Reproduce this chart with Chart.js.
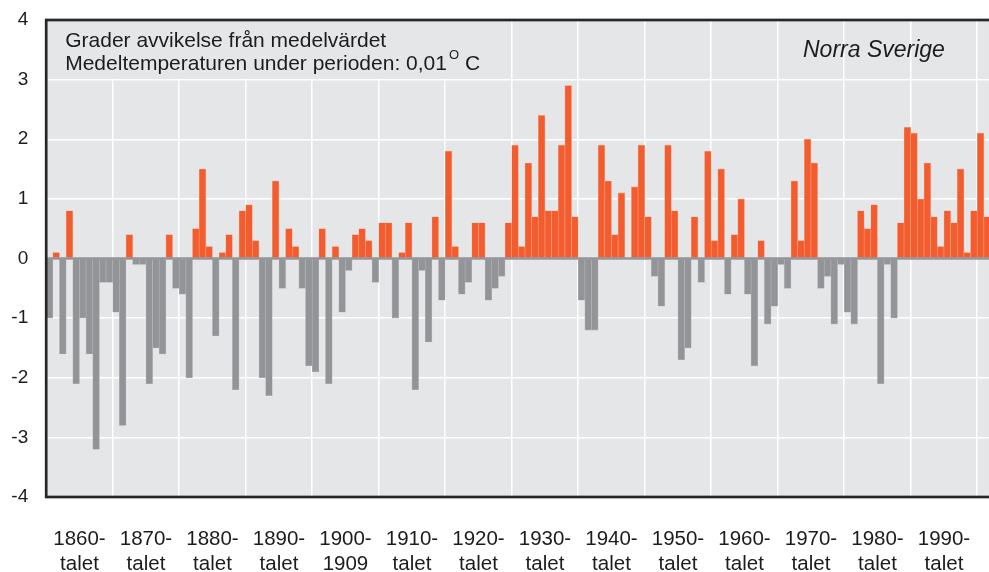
<!DOCTYPE html>
<html lang="sv">
<head>
<meta charset="utf-8">
<title>Norra Sverige</title>
<script src="https://cdn.jsdelivr.net/npm/chart.js@4.4.1/dist/chart.umd.min.js"></script>
<style>
html, body { margin:0; padding:0; background:#fff; overflow:hidden; }
#wrap { width:996px; height:572px; position:relative; }
</style>
</head>
<body>
<div id="wrap"><canvas id="tempChart"></canvas></div>
<script>

const firstYear = 1860;

// grader avvikelse från medelvärdet, ett värde per år 1860-2001
const deviation = [
    -1.0,  0.1, -1.6,  0.8, -2.1, -1.0, -1.6, -3.2, -0.4, -0.4,   // 1860
    -0.9, -2.8,  0.4, -0.1, -0.1, -2.1, -1.5, -1.6,  0.4, -0.5,   // 1870
    -0.6, -2.0,  0.5,  1.5,  0.2, -1.3,  0.1,  0.4, -2.2,  0.8,   // 1880
     0.9,  0.3, -2.0, -2.3,  1.3, -0.5,  0.5,  0.2, -0.5, -1.8,   // 1890
    -1.9,  0.5, -2.1,  0.2, -0.9, -0.2,  0.4,  0.5,  0.3, -0.4,   // 1900
     0.6,  0.6, -1.0,  0.1,  0.6, -2.2, -0.2, -1.4,  0.7, -0.7,   // 1910
     1.8,  0.2, -0.6, -0.4,  0.6,  0.6, -0.7, -0.5, -0.3,  0.6,   // 1920
     1.9,  0.2,  1.6,  0.7,  2.4,  0.8,  0.8,  1.9,  2.9,  0.7,   // 1930
    -0.7, -1.2, -1.2,  1.9,  1.3,  0.4,  1.1,  0.0,  1.2,  1.9,   // 1940
     0.7, -0.3, -0.8,  1.9,  0.8, -1.7, -1.5,  0.7, -0.4,  1.8,   // 1950
     0.3,  1.5, -0.6,  0.4,  1.0, -0.6, -1.8,  0.3, -1.1, -0.8,   // 1960
    -0.1, -0.5,  1.3,  0.3,  2.0,  1.6, -0.5, -0.3, -1.1, -0.1,   // 1970
    -0.9, -1.1,  0.8,  0.5,  0.9, -2.1, -0.1, -1.0,  0.6,  2.2,   // 1980
     2.1,  1.0,  1.6,  0.7,  0.2,  0.8,  0.6,  1.5,  0.1,  0.8,   // 1990
     2.1,  0.7                                                    // 2000
];

const decadeLabels = [
    ["1860-", "talet"], ["1870-", "talet"], ["1880-", "talet"], ["1890-", "talet"],
    ["1900-", "1909"],  ["1910-", "talet"], ["1920-", "talet"], ["1930-", "talet"],
    ["1940-", "talet"], ["1950-", "talet"], ["1960-", "talet"], ["1970-", "talet"],
    ["1980-", "talet"], ["1990-", "talet"]
];

const headerLines = [
    "Grader avvikelse från medelvärdet",
    "Medeltemperaturen under perioden: 0,01"
];
const degreeMark = "O";
const degreeUnit = " C";
const regionName = "Norra Sverige";

const years = deviation.map((v, i) => String(firstYear + i));

const warm = "#f25c2e";
const warmEdge = "#f8a586";
const cold = "#939498";
const coldEdge = "#b5b6b9";
const plotBg = "#e5e6e8";
const ink = "#1c1c1c";
const fontFamily = "'Liberation Sans', Arial, sans-serif";

const framePlugin = {

    id: "frame",

    beforeDraw(chart){

        const {ctx, chartArea: a} = chart;

        ctx.save();
        ctx.fillStyle = plotBg;
        ctx.fillRect(a.left, a.top, a.right - a.left, a.bottom - a.top);
        ctx.restore();

    },

    beforeDatasetsDraw(chart){

        // rutan bakom rubriken döljer de lodräta stödlinjerna
        const {ctx, chartArea: a, scales} = chart;
        const right = scales.x2.getPixelForValue(1930) - 2;
        const bottom = scales.y.getPixelForValue(3) - 1;

        ctx.save();
        ctx.fillStyle = plotBg;
        ctx.fillRect(a.left, a.top, right - a.left, bottom - a.top);
        ctx.restore();

    },

    afterDatasetsDraw(chart){

        const {ctx, chartArea: a, scales} = chart;
        const y0 = scales.y.getPixelForValue(0);

        ctx.save();
        ctx.strokeStyle = cold;
        ctx.lineWidth = 2.5;
        ctx.beginPath();
        ctx.moveTo(a.left, y0);
        ctx.lineTo(a.right, y0);
        ctx.stroke();
        ctx.restore();

    },

    afterDraw(chart){

        const {ctx, chartArea: a} = chart;

        ctx.save();

        ctx.strokeStyle = "#262626";
        ctx.lineWidth = 2.7;
        ctx.strokeRect(a.left, a.top, a.right - a.left, a.bottom - a.top);

        ctx.fillStyle = ink;
        ctx.textBaseline = "alphabetic";
        ctx.textAlign = "left";

        ctx.font = "21px " + fontFamily;
        ctx.fillText(headerLines[0], a.left + 19, a.top + 26.7);
        ctx.fillText(headerLines[1], a.left + 19, a.top + 50);

        let x = a.left + 19 + ctx.measureText(headerLines[1]).width + 2;

        ctx.font = "13px " + fontFamily;
        ctx.fillText(degreeMark, x, a.top + 39.3);
        x += ctx.measureText(degreeMark).width;

        ctx.font = "21px " + fontFamily;
        ctx.fillText(degreeUnit, x, a.top + 50);

        ctx.font = "italic 23px " + fontFamily;
        ctx.fillText(regionName, 803, a.top + 36.7);

        ctx.restore();

    }

};

function drawChart(){

    const ctx =
        document
        .getElementById("tempChart");

    new Chart(ctx,{

        type:"bar",

        data:{

            labels:years,

            datasets:[{

                data:deviation,

                backgroundColor:deviation.map(v => v >= 0 ? warm : cold),

                borderColor:deviation.map(v => v >= 0 ? warmEdge : coldEdge),

                borderWidth:0.6,

                barPercentage:1,

                categoryPercentage:1

            }]

        },

        options:{

            responsive:true,

            maintainAspectRatio:false,

            animation:false,

            layout:{
                padding:{ top:20, right:5.5, bottom:0, left:0 }
            },

            plugins:{
                legend:{ display:false },
                tooltip:{ enabled:false }
            },

            scales:{

                x:{
                    position:"bottom",
                    offset:true,
                    ticks:{ display:false, autoSkip:false },
                    border:{ display:false },
                    grid:{
                        offset:true,
                        drawTicks:false,
                        lineWidth:1.5,
                        color:c => (c.index > 0 && c.index % 10 === 0) ? "#ffffff" : "rgba(0,0,0,0)"
                    },
                    afterFit:scale => {
                        scale.height = 0;
                        scale.paddingLeft = 0;
                        scale.paddingRight = 0;
                    }
                },

                x2:{
                    type:"linear",
                    position:"bottom",
                    offset:false,
                    min:firstYear,
                    max:firstYear + deviation.length,
                    grid:{ display:false, drawTicks:false },
                    border:{ display:false },
                    afterBuildTicks:scale => {
                        scale.ticks = decadeLabels.map((l, i) => ({ value:firstYear + i * 10 + 5 }));
                    },
                    ticks:{
                        autoSkip:false,
                        maxRotation:0,
                        padding:29.5,
                        color:ink,
                        font:{ family:fontFamily, size:20.5, lineHeight:1.22 },
                        callback:(value, index) => decadeLabels[index]
                    },
                    afterFit:scale => {
                        scale.height = 75;
                        scale.paddingLeft = 0;
                        scale.paddingRight = 0;
                    }
                },

                y:{
                    min:-4,
                    max:4,
                    border:{ display:false },
                    grid:{
                        drawTicks:false,
                        lineWidth:1.5,
                        color:"#ffffff"
                    },
                    ticks:{
                        stepSize:1,
                        padding:18,
                        color:ink,
                        font:{ family:fontFamily, size:19 }
                    },
                    afterFit:scale => {
                        scale.width = 46.2;
                        scale.paddingTop = 0;
                        scale.paddingBottom = 0;
                    }
                }

            }

        },

        plugins:[framePlugin]

    });

}

drawChart();

</script>
</body>
</html>
